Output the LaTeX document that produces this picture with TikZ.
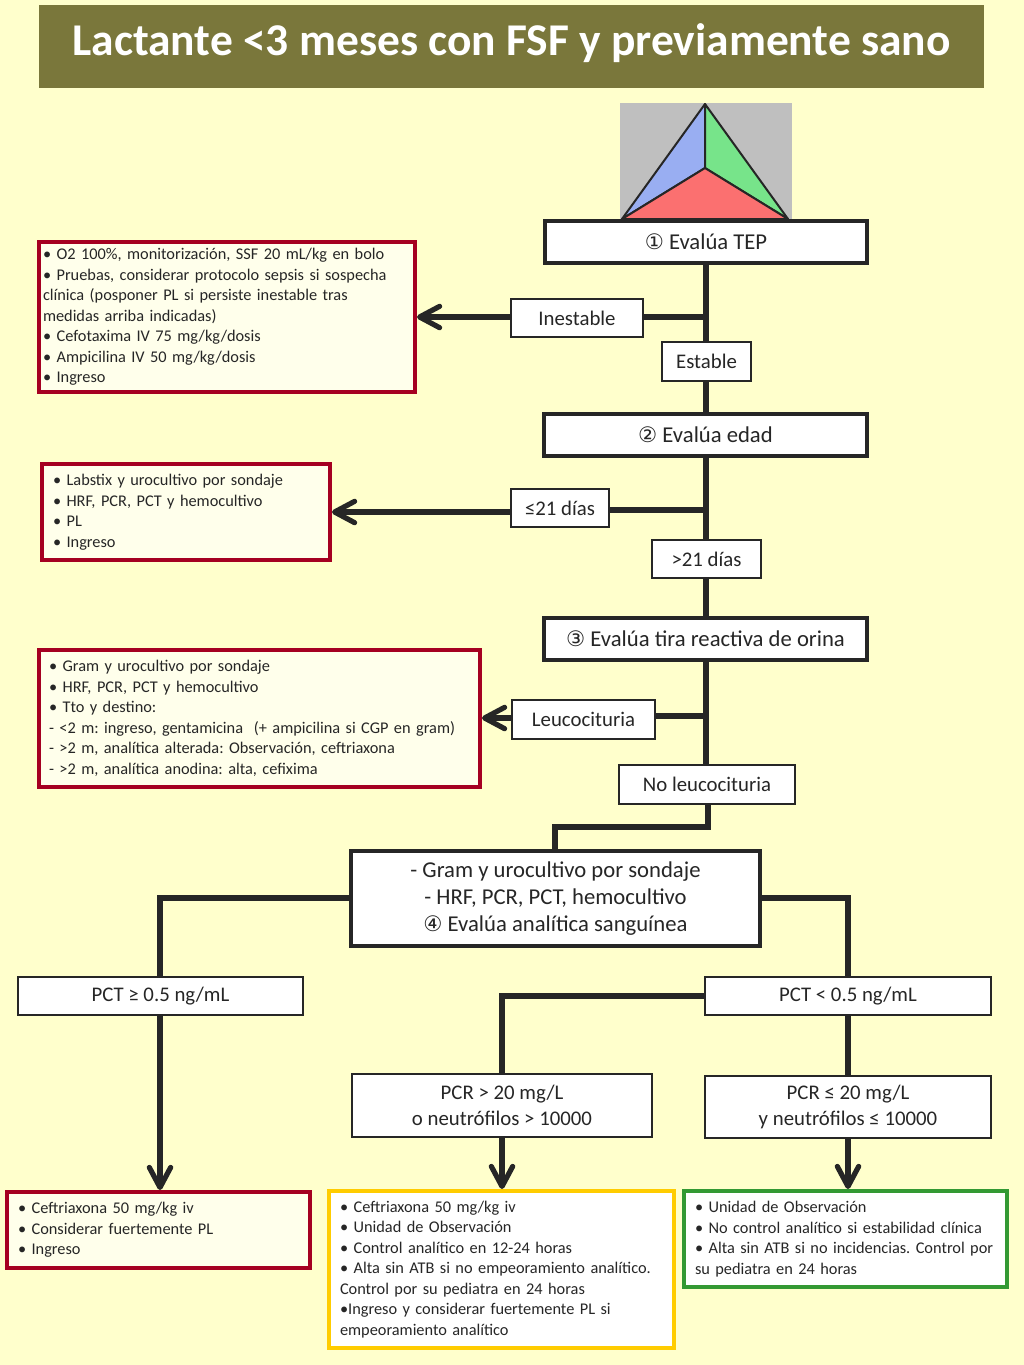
\documentclass[tikz,border=0pt]{standalone}
\usepackage{fontspec}
\setmainfont{Carlito}
\newfontfamily\symf{DejaVu Sans}
\usetikzlibrary{arrows.meta}
\definecolor{pagebg}{HTML}{FFFFCC}
\definecolor{olive}{HTML}{7A773B}
\definecolor{ink}{HTML}{262626}
\definecolor{redb}{HTML}{A50021}
\definecolor{yelb}{HTML}{FFCC00}
\definecolor{grnb}{HTML}{339933}
\definecolor{softfill}{HTML}{FFFFEB}
\definecolor{tgray}{HTML}{BFBFBF}
\definecolor{tblue}{HTML}{99AEF2}
\definecolor{tgreen}{HTML}{77E48A}
\definecolor{tred}{HTML}{FB7070}
\newcommand{\cn}[1]{{\symf\fontsize{16}{20}\selectfont #1}}
% name, x0, y0, x1, y1, style, text  (pixel coordinates)
\newcommand{\pbox}[7]{\node[#6, minimum width={(#4-#2)*0.75pt}, minimum height={(#5-#3)*0.75pt}] (#1) at ({(#2+#4)/2},{(#3+#5)/2}) {#7};}
\newcommand{\tbox}[8]{\node[#6, text width={(#4-#2-4)*0.75pt}, inner xsep=1.5pt, minimum height={(#5-#3)*0.75pt}] (#1) at ({(#2+#4)/2},{(#3+#5)/2}) {\leftskip=\dimexpr #8pt*3/4-1.5pt\relax #7\par};}
\tikzset{
  every node/.style={outer sep=0pt, inner sep=0pt, text=ink},
  stepbox/.style={draw=ink, fill=white, line width=2.7pt, align=center, font=\frenchspacing\fontsize{17}{20.3}\selectfont},
  tagbox/.style={draw=ink, fill=white, line width=2.1pt, align=center, font=\frenchspacing\fontsize{15.6}{19.3}\selectfont},
  notebox/.style={line width=2.5pt, align=left, font=\frenchspacing\fontsize{12.25}{15.4}\selectfont},
  redbox/.style={notebox, draw=redb, fill=softfill},
  yellowbox/.style={notebox, draw=yelb, fill=white},
  greenbox/.style={notebox, draw=grnb, fill=white},
  flow/.style={draw=ink, line width=3.9pt},
  flowarrow/.style={flow, shorten >=1.5pt, -{Straight Barb[length=15pt, width=16pt, round]}},
  facet/.style={draw=ink, line width=1.5pt, line join=round},
}
\begin{document}
\begin{tikzpicture}[x=0.75pt, y=-0.75pt]
\fill[pagebg] (0,0) rectangle (1024,1365);
\useasboundingbox (0,0) rectangle (1024,1365);
\node[fill=olive, minimum width=708.75pt, minimum height=62.25pt, text=white, font=\fontsize{34.1}{40}\selectfont\bfseries] (title) at (511.5,46.5) {\raisebox{2.8pt}[\height][\depth]{Lactante <3 meses con FSF y previamente sano}};
% triangle
\fill[tgray] (620,103) rectangle (792,220);
\coordinate (ta) at (705,104);
\coordinate (tl) at (622,219);
\coordinate (tr) at (788,219);
\coordinate (tc) at (705,168);
\filldraw[facet, fill=tblue] (ta) -- (tc) -- (tl) -- cycle;
\filldraw[facet, fill=tgreen] (ta) -- (tr) -- (tc) -- cycle;
\filldraw[facet, fill=tred] (tl) -- (tc) -- (tr) -- cycle;
% steps
\pbox{tep}{545}{221}{867}{263}{stepbox}{\cn{①} Evalúa TEP}
\pbox{edad}{544}{414}{867}{456}{stepbox}{\cn{②} Evalúa edad}
\pbox{tira}{544}{618}{867}{660}{stepbox}{\cn{③} Evalúa tira reactiva de orina}
\pbox{main}{351}{851}{760}{946}{stepbox}{- Gram y urocultivo por sondaje\\- HRF, PCR, PCT, hemocultivo\\\cn{④} Evalúa analítica sanguínea}
% tags
\pbox{ines}{511}{299}{643}{337}{tagbox}{Inestable}
\pbox{esta}{662}{342}{751}{381}{tagbox}{Estable}
\pbox{le21}{511}{489}{609}{527}{tagbox}{≤21 días}
\pbox{gt21}{652}{540}{761}{578}{tagbox}{>21 días}
\pbox{leu}{512}{700}{655}{739}{tagbox}{Leucocituria}
\pbox{noleu}{619}{765}{795}{804}{tagbox}{No leucocituria}
\pbox{pcthi}{18}{977}{303}{1015}{tagbox}{PCT ≥ 0.5 ng/mL}
\pbox{pctlo}{705}{977}{991}{1015}{tagbox}{PCT < 0.5 ng/mL}
\pbox{pcrhi}{352}{1074}{652}{1137}{tagbox}{PCR > 20 mg/L\\o neutrófilos > 10000}
\pbox{pcrlo}{705}{1076}{991}{1138}{tagbox}{PCR ≤ 20 mg/L\\y neutrófilos ≤ 10000}
% notes
\tbox{n1}{39}{242}{415}{392}{redbox}{• O2 100\%, monitorización, SSF 20 mL/kg en bolo\\• Pruebas, considerar protocolo sepsis si sospecha\\clínica (posponer PL si persiste inestable tras\\medidas arriba indicadas)\\• Cefotaxima IV 75 mg/kg/dosis\\• Ampicilina IV 50 mg/kg/dosis\\• Ingreso}{4}
\tbox{n2}{42}{464}{330}{560}{redbox}{• Labstix y urocultivo por sondaje\\• HRF, PCR, PCT y hemocultivo\\• PL\\• Ingreso}{11}
\tbox{n3}{39}{650}{480}{787}{redbox}{• Gram y urocultivo por sondaje\\• HRF, PCR, PCT y hemocultivo\\• Tto y destino:\\- <2 m: ingreso, gentamicina\ \ (+ ampicilina si CGP en gram)\\- >2 m, analítica alterada: Observación, ceftriaxona\\- >2 m, analítica anodina: alta, cefixima}{10}
\tbox{n4}{7}{1192}{310}{1268}{redbox}{• Ceftriaxona 50 mg/kg iv\\• Considerar fuertemente PL\\• Ingreso}{11}
\tbox{n5}{329}{1191}{674}{1348}{yellowbox}{• Ceftriaxona 50 mg/kg iv\\• Unidad de Observación\\• Control analítico en 12-24 horas\\• Alta sin ATB si no empeoramiento analítico.\\Control por su pediatra en 24 horas\\•Ingreso y considerar fuertemente PL si\\empeoramiento analítico}{11}
\tbox{n6}{684}{1191}{1007}{1287}{greenbox}{• Unidad de Observación\\• No control analítico si estabilidad clínica\\• Alta sin ATB si no incidencias. Control por\\su pediatra en 24 horas}{11}
% connectors
\coordinate (j1) at (706,317);
\coordinate (j2) at (706,510);
\coordinate (j3) at (706,716);
\coordinate (a2) at (400,512);
\coordinate (a3) at (500,718);
\coordinate (nb) at (708,827);
\coordinate (mt) at (555,827);
\coordinate (ml) at (160,898);
\coordinate (mr) at (848,898);
\coordinate (lt) at (502,996);
\draw[flow] (tep.south -| j1) -- (esta.north -| j1);
\draw[flow] (ines.east |- j1) -- (j1);
\draw[flow] (esta.south -| j1) -- (edad.north -| j1);
\draw[flow] (edad.south -| j2) -- (gt21.north -| j2);
\draw[flow] (le21.east |- j2) -- (j2);
\draw[flow] (gt21.south -| j2) -- (tira.north -| j2);
\draw[flow] (tira.south -| j3) -- (noleu.north -| j3);
\draw[flow] (leu.east |- j3) -- (j3);
\draw[flow] (noleu.south -| nb) -- (nb) -- (mt) -- (main.north -| mt);
\draw[flow] (main.west |- ml) -- (ml) -- (pcthi.north -| ml);
\draw[flow] (main.east |- mr) -- (mr) -- (pctlo.north -| mr);
\draw[flow] (pctlo.west |- lt) -- (lt) -- (pcrhi.north -| lt);
\draw[flow] (pctlo.south -| mr) -- (pcrlo.north -| mr);
\draw[flowarrow] (ines.west |- j1) -- (n1.east |- j1);
\draw[flowarrow] (le21.west |- a2) -- (n2.east |- a2);
\draw[flowarrow] (leu.west |- a3) -- (n3.east |- a3);
\draw[flowarrow] (pcthi.south -| ml) -- (n4.north -| ml);
\draw[flowarrow] (pcrhi.south -| lt) -- (n5.north -| lt);
\draw[flowarrow] (pcrlo.south -| mr) -- (n6.north -| mr);
\end{tikzpicture}
\end{document}
